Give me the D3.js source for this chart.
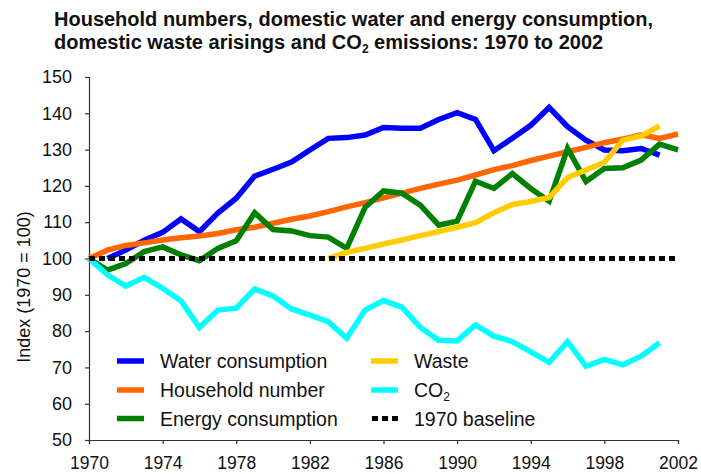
<!DOCTYPE html>
<html><head><meta charset="utf-8">
<script src="https://cdn.jsdelivr.net/npm/d3@7"></script>
<style>body{margin:0;background:#fff}svg{display:block}text{font-family:"Liberation Sans",Arial,sans-serif;fill:#111}</style>
</head><body><svg id="c" width="701" height="474"></svg>
<script>
const years = d3.range(1970, 2003);
const xTicks = [1970,1974,1978,1982,1986,1990,1994,1998,2002];
const yTicks = [50,60,70,80,90,100,110,120,130,140,150];
// values indexed by year starting 1970 (null = no data)
const water = [null,100,102.3,105,107.2,110.9,107.4,112.5,116.6,122.7,124.6,126.6,129.9,133.1,133.3,134,136.1,135.9,135.9,138.3,140.2,138.3,129.7,133.1,136.7,141.6,136.3,132.6,129.9,129.7,130.3,128.5,null];
const household = [100,102.3,103.6,104.3,105.1,105.7,106.2,106.9,107.9,108.6,109.7,110.8,111.7,112.9,114.2,115.4,116.7,118,119.3,120.5,121.6,123,124.5,125.6,127,128.2,129.4,130.6,131.9,132.9,134.1,133.1,134.3];
const energy = [100,96.8,98.6,101.9,103.2,101,99.4,102.8,104.9,112.6,108,107.6,106.3,105.9,102.8,114.1,118.6,118,114.7,109.2,110.3,121.3,119.3,123.4,119.3,115.8,130.3,121.2,124.8,125,127.1,131.5,129.9];
const waste = [null,null,null,null,null,null,null,null,null,null,null,null,null,100,101.7,102.8,104,105.1,106.3,107.4,108.6,109.9,112.6,114.9,115.7,116.8,122.3,124.4,126.5,132.6,133.8,136.5,null];
const co2 = [100,95.5,92.4,94.8,91.8,88.3,81,85.8,86.3,91.6,89.7,86.1,84.4,82.6,78,85.8,88.4,86.6,81,77.5,77.3,81.7,78.6,77.1,74.3,71.4,77.1,70.3,72.2,70.7,73.1,76.8,null];
const baseline = years.map(() => 100);

const seriesNames = ["Water consumption","Household number","Energy consumption","Waste","CO2","1970 baseline"];
const seriesColors = ["#0000ff","#ff6600","#008000","#ffcc00","#00ffff","#000000"];

const svg = d3.select("#c");
const x = d3.scaleLinear().domain([1970,2002]).range([89,678]);
const y = d3.scaleLinear().domain([50,150]).range([440,77]);

// title
const title = svg.append("text").attr("x",54).attr("y",26).style("font-weight","bold").style("font-size","20px");
title.append("tspan").attr("x",54).attr("y",26).text("Household numbers, domestic water and energy consumption,");
const t2 = svg.append("text").attr("x",54).attr("y",49).style("font-weight","bold").style("font-size","20px");
t2.append("tspan").text("domestic waste arisings and CO");
t2.append("tspan").attr("dy",4).style("font-size","12px").text("2");
t2.append("tspan").attr("dy",-4).text(" emissions: 1970 to 2002");

// axes
const yAxis = svg.append("g").attr("transform","translate(89,0)")
  .call(d3.axisLeft(y).tickValues(yTicks).tickSize(4).tickPadding(13).tickFormat(d3.format("d")));
const xAxis = svg.append("g").attr("transform","translate(0,440)")
  .call(d3.axisBottom(x).tickValues(xTicks).tickSize(4).tickPadding(10).tickFormat(d3.format("d")));
[yAxis,xAxis].forEach(g=>{
  g.select(".domain").attr("stroke","#333").attr("stroke-width",1.2);
  g.selectAll(".tick line").attr("stroke","#333").attr("stroke-width",1.2);
  g.selectAll("text").style("font-size","18px").style("font-family","Liberation Sans, Arial, sans-serif").attr("fill","#111");
});
xAxis.selectAll("text").style("font-size","17.5px").attr("dy","0.85em");

svg.append("text").attr("transform","translate(30,287) rotate(-90)").attr("text-anchor","middle")
  .style("font-size","18px").text("Index (1970 = 100)");

const line = d3.line().defined(d => d[1] != null).x(d => x(d[0])).y(d => y(d[1]));
const data = [water,household,energy,waste,co2];
data.forEach((arr,i)=>{
  svg.append("path").datum(years.map((yr,j)=>[yr,arr[j]]))
    .attr("d",line).attr("fill","none").attr("stroke",seriesColors[i])
    .attr("stroke-width",5.5).attr("stroke-linejoin","miter");
});
svg.append("path").datum(years.map((yr,j)=>[yr,baseline[j]]))
  .attr("d",line).attr("fill","none").attr("stroke","#000").attr("stroke-width",5)
  .attr("stroke-dasharray","6,4");

// legend
const legPos = [[117,361],[117,390],[117,418.5],[371,361],[371,390],[371,418.5]];
seriesNames.forEach((name,i)=>{
  const [lx,ly] = legPos[i];
  const sw = svg.append("line").attr("x1",lx).attr("x2",lx+27).attr("y1",ly).attr("y2",ly)
    .attr("stroke",seriesColors[i]).attr("stroke-width",5.5);
  if(i===5) sw.attr("stroke-dasharray","6,4").attr("x1",lx+1).attr("stroke-width",5);
  const t = svg.append("text").attr("x",lx+43).attr("y",ly+7).style("font-size","19.5px");
  if(name==="CO2"){
    t.append("tspan").text("CO");
    t.append("tspan").attr("dy",4).style("font-size","12px").text("2");
  } else t.text(name);
});
</script></body></html>
